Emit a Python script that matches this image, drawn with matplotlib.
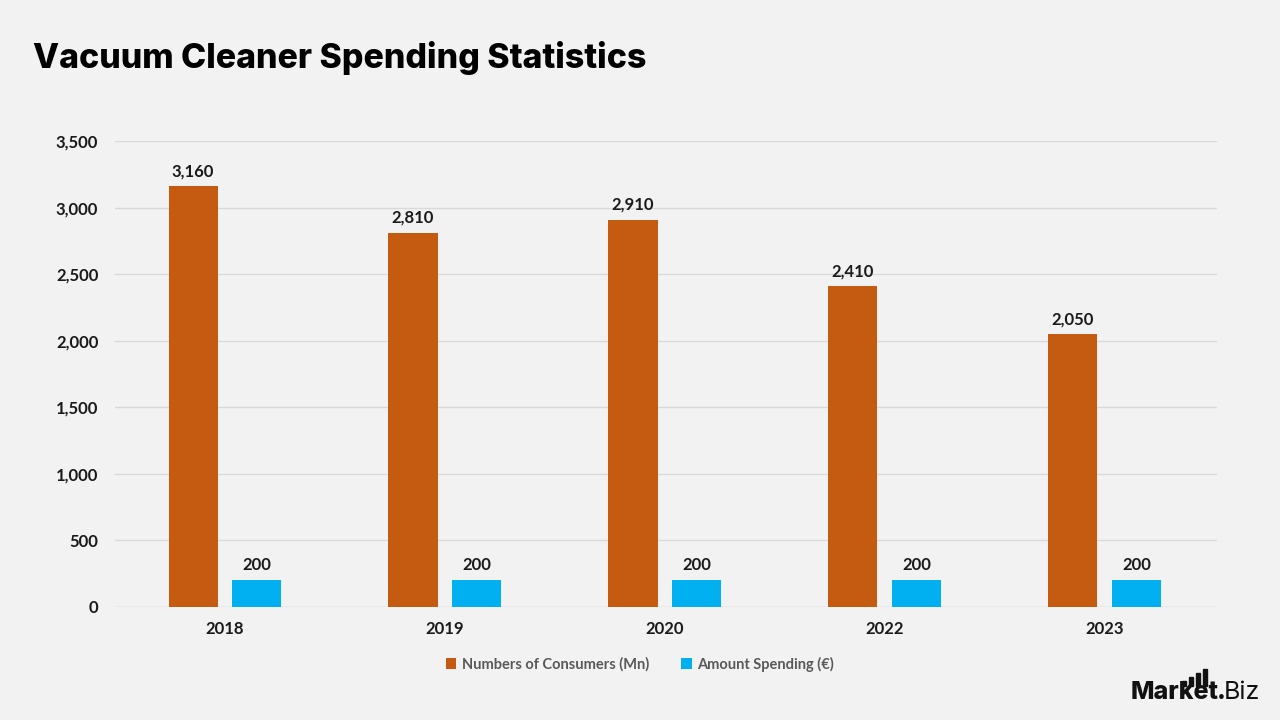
import matplotlib.pyplot as plt
import numpy as np
from matplotlib.patches import Rectangle

# data
years = ['2018', '2019', '2020', '2022', '2023']
consumers = [3160, 2810, 2910, 2410, 2050]
spending = [200, 200, 200, 200, 200]
yticks = [0, 500, 1000, 1500, 2000, 2500, 3000, 3500]

bg = '#F2F2F2'
orange = '#C55A11'
blue = '#00B0F0'

plt.rcParams['font.family'] = ['Lato', 'DejaVu Sans']

fig = plt.figure(figsize=(12.8, 7.2), dpi=100, facecolor=bg)
ax = fig.add_axes([0.0898, 0.157, 0.861, 0.647], facecolor=bg)

x = np.arange(len(years))
w = 0.223
off = 0.145
b1 = ax.bar(x - off, consumers, w, color=orange, label='Numbers of Consumers (Mn)', zorder=3)
b2 = ax.bar(x + off, spending, w, color=blue, label='Amount Spending (€)', zorder=3)

for bars in (b1, b2):
    for r in bars:
        ax.annotate(f'{int(r.get_height()):,}', (r.get_x() + r.get_width() / 2, r.get_height()),
                    xytext=(0, 5), textcoords='offset points', ha='center', va='bottom',
                    fontsize=12, fontweight='bold', color='#1a1a1a')

ax.set_xlim(-0.5, 4.51)
ax.set_ylim(0, 3500)
ax.set_yticks(yticks)
ax.set_yticklabels([f'{v:,}' for v in yticks])
ax.set_xticks(x)
ax.set_xticklabels(years)
ax.tick_params(axis='both', length=0, labelsize=12, colors='#1a1a1a')
for lab in ax.get_xticklabels() + ax.get_yticklabels():
    lab.set_fontweight('bold')
ax.tick_params(axis='y', pad=12)
ax.tick_params(axis='x', pad=10)
ax.grid(axis='y', color='#D9D9D9', linewidth=1, zorder=0)
for s in ax.spines.values():
    s.set_visible(False)
ax.axhline(0, color='#D9D9D9', linewidth=1, zorder=1)

leg = fig.legend(loc='center', bbox_to_anchor=(0.5, 1 - 664 / 720), ncol=2, frameon=False,
                 fontsize=10.5, handlelength=0.7, handleheight=0.7, columnspacing=2.2,
                 handletextpad=0.4)
for t in leg.get_texts():
    t.set_color('#595959')
    t.set_fontweight('bold')

fig.text(33 / 1280, 1 - 58 / 720, 'Vacuum Cleaner Spending Statistics', fontsize=24.4,
         fontweight='heavy', family=['Inter', 'DejaVu Sans'], va='center', ha='left', color='black')

# logo: place pieces one after another using measured widths
renderer = fig.canvas.get_renderer()
logo_font = dict(family=['Inter', 'DejaVu Sans'], va='baseline', ha='left', color='#111111')
base = 1 - 699 / 720
xpos = 1131
t1 = fig.text(xpos / 1280, base, 'Market', fontsize=18, fontweight='heavy', **logo_font)
xpos = t1.get_window_extent(renderer).x1 - 2
t2 = fig.text(xpos / 1280, base, '.', fontsize=18, fontweight='heavy', **logo_font)
xpos = t2.get_window_extent(renderer).x1 - 2
t3 = fig.text(xpos / 1280, base, 'Biz', fontsize=18, fontweight='normal', **logo_font)
mk = t1.get_window_extent(renderer)
bx0 = mk.x1 - 0.42 * mk.width
for i, top in enumerate([681, 677, 673, 669]):
    fig.add_artist(Rectangle(((bx0 + i * 7) / 1280, 1 - 686 / 720), 3.5 / 1280, (686 - top) / 720,
                             transform=fig.transFigure, color='#111111'))

fig.savefig('out.png', dpi=100, facecolor=bg)
